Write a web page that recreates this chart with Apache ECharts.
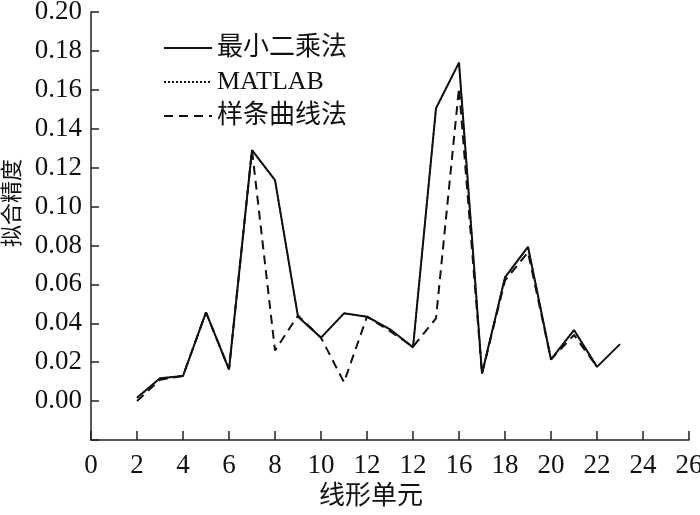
<!DOCTYPE html>
<html>
<head>
<meta charset="utf-8">
<script src="https://cdn.jsdelivr.net/npm/echarts@6/dist/echarts.min.js"></script>
<style>
  html, body { margin: 0; padding: 0; background: #fff; }
  #chart { width: 700px; height: 515px; }
</style>
</head>
<body>
<div id="chart"></div>
<script>
// 线形单元编号
var units = [2, 3, 4, 5, 6, 7, 8, 9, 10, 11, 12, 13, 14, 15, 16, 17, 18, 19, 20, 21, 22, 23];
// 最小二乘法
var leastSquares = [0.0017, 0.0117, 0.0129, 0.0456, 0.0163, 0.129, 0.1136, 0.0434, 0.0326, 0.0451, 0.0434,
                    0.0369, 0.0276, 0.1505, 0.174, 0.0142, 0.0636, 0.0793, 0.0214, 0.0365, 0.0176, 0.0293];
// MATLAB (与最小二乘法几乎重合)
var matlab = [0.0017, 0.0117, 0.0129, 0.0456, 0.0163, 0.129, 0.1136, 0.0434, 0.0326, 0.0451, 0.0434,
              0.0369, 0.0276, 0.1505, 0.174, 0.0142, 0.0636, 0.0793, 0.0214, 0.0365, 0.0176];
// 样条曲线法
var spline = [0.0, 0.011, 0.013, 0.0456, 0.0163, 0.129, 0.026, 0.044, 0.0326, 0.0097, 0.0434,
              0.036, 0.028, 0.0425, 0.161, 0.014, 0.062, 0.0765, 0.0214, 0.034, 0.0176];
var xTickLabels = ['0', '2', '4', '6', '8', '10', '12', '12', '16', '18', '20', '22', '24', '26'];
var yTickLabels = ['0.00', '0.02', '0.04', '0.06', '0.08', '0.10', '0.12', '0.14', '0.16', '0.18', '0.20'];

function pairs(vals) {
    return vals.map(function (v, i) { return [units[i], v]; });
}

var serif = '"Liberation Serif", "Times New Roman", serif';
var cjk = '"Liberation Serif", "Noto Sans CJK SC", serif';

var chart = echarts.init(document.getElementById('chart'));
chart.setOption({
    animation: false,
    grid: { left: 91, right: 11, top: 12, bottom: 75, outerBoundsMode: 'none', containLabel: false },
    legend: {
        orient: 'vertical',
        left: 158,
        top: 30,
        itemWidth: 48,
        itemHeight: 14,
        itemGap: 8,
        itemStyle: { opacity: 0 },
        textStyle: { fontFamily: cjk, fontSize: 26, color: '#111' },
        data: ['最小二乘法', 'MATLAB', '样条曲线法']
    },
    xAxis: {
        type: 'value',
        min: 0,
        max: 26,
        interval: 2,
        name: '线形单元',
        nameLocation: 'middle',
        nameGap: 40,
        nameTextStyle: { fontFamily: cjk, fontSize: 26, color: '#111', padding: [0, 38, 0, 0] },
        axisLine: { onZero: false, lineStyle: { color: '#222', width: 1.5 } },
        axisTick: { inside: true, length: 9, lineStyle: { color: '#222', width: 1.5 } },
        axisLabel: {
            margin: 12,
            fontFamily: serif,
            fontSize: 27,
            color: '#111',
            formatter: function (v) { return xTickLabels[Math.round(v / 2)]; }
        },
        splitLine: { show: false }
    },
    yAxis: {
        type: 'value',
        min: -0.02,
        max: 0.2,
        interval: 0.02,
        name: '拟合精度',
        nameLocation: 'middle',
        nameRotate: 90,
        nameGap: 62,
        nameTextStyle: { fontFamily: cjk, fontSize: 22, color: '#111', padding: [0, 0, 0, 46] },
        axisLine: { lineStyle: { color: '#222', width: 1.5 } },
        axisTick: { inside: true, length: 8, lineStyle: { color: '#222', width: 1.5 } },
        axisLabel: {
            margin: 9,
            fontFamily: serif,
            fontSize: 27,
            color: '#111',
            formatter: function (v) {
                var i = Math.round(v / 0.02);
                return i < 0 ? '' : yTickLabels[i];
            }
        },
        splitLine: { show: false }
    },
    series: [{
        name: '最小二乘法',
        type: 'line',
        symbol: 'none',
        z: 4,
        data: pairs(leastSquares),
        lineStyle: { color: '#111', width: 2, type: 'solid' },
        itemStyle: { color: '#111' }
    }, {
        name: 'MATLAB',
        type: 'line',
        symbol: 'none',
        z: 3,
        data: pairs(matlab),
        lineStyle: { color: '#111', width: 1.5, type: [2, 2] },
        itemStyle: { color: '#111' }
    }, {
        name: '样条曲线法',
        type: 'line',
        symbol: 'none',
        z: 2,
        data: pairs(spline),
        lineStyle: { color: '#111', width: 2, type: [9, 6] },
        itemStyle: { color: '#111' }
    }]
});
</script>
</body>
</html>
